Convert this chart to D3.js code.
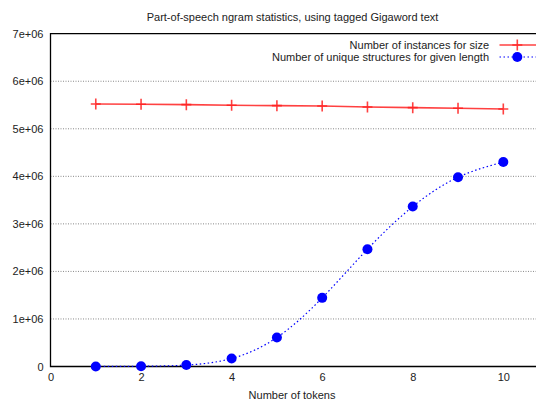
<!DOCTYPE html>
<html>
<head>
<meta charset="utf-8">
<script src="https://cdn.jsdelivr.net/npm/d3@7"></script>
<style>
html,body{margin:0;padding:0;background:#fff;}
svg{display:block;font-family:"Liberation Sans",Arial,Helvetica,sans-serif;}
</style>
</head>
<body>
<svg id="chart" width="536" height="400"></svg>
<script>
const tokens = [1, 2, 3, 4, 5, 6, 7, 8, 9, 10];
const instances = [5522000, 5516000, 5508000, 5495000, 5487000, 5480000, 5459000, 5445000, 5432000, 5417000];
const uniqueStructures = [1000, 5000, 30000, 168000, 610000, 1444000, 2468000, 3364000, 3980000, 4300000];
const xTicks = [0, 2, 4, 6, 8, 10];
const yTicks = [0, 1e6, 2e6, 3e6, 4e6, 5e6, 6e6, 7e6];
const yTickLabels = ["0", "1e+06", "2e+06", "3e+06", "4e+06", "5e+06", "6e+06", "7e+06"];
const titleText = "Part-of-speech ngram statistics, using tagged Gigaword text";
const xLabelText = "Number of tokens";
const seriesNames = ["Number of instances for size", "Number of unique structures for given length"];

const svg = d3.select("#chart");
const plotLeft = 50.5, plotTop = 33.7, plotBottom = 366.5;
const x = d3.scaleLinear().domain([0, 11]).range([plotLeft, plotLeft + 45.28 * 11]);
const y = d3.scaleLinear().domain([0, 7e6]).range([plotBottom, plotTop]);

// grid lines
svg.append("g").selectAll("line").data(yTicks.slice(0, -1)).join("line")
  .attr("x1", plotLeft).attr("x2", 536)
  .attr("y1", d => y(d)).attr("y2", d => y(d))
  .attr("stroke", "#888").attr("stroke-width", 1)
  .attr("stroke-dasharray", "1,1.5");

// y axis labels
const yAxis = d3.axisLeft(y).tickValues(yTicks).tickFormat((d, i) => yTickLabels[i]).tickSize(0).tickPadding(7);
const gy = svg.append("g").attr("transform", `translate(${plotLeft},0)`).call(yAxis);
gy.select(".domain").remove();
gy.selectAll("text").attr("font-size", 11).attr("fill", "#222").attr("font-family", "Liberation Sans, Arial, sans-serif");

const xAxis = d3.axisBottom(x).tickValues(xTicks).tickFormat(d3.format("d")).tickSize(0).tickPadding(7);
const gx = svg.append("g").attr("transform", `translate(0,${plotBottom})`).call(xAxis);
gx.select(".domain").remove();
gx.selectAll("text").attr("font-size", 11).attr("fill", "#222").attr("font-family", "Liberation Sans, Arial, sans-serif");

// border (left, top, bottom)
svg.append("path")
  .attr("d", `M536,${plotTop}H${plotLeft}V${plotBottom}H536`)
  .attr("fill", "none").attr("stroke", "#000").attr("stroke-width", 1.3);

// title and x label
svg.append("text").attr("x", 292.5).attr("y", 21).attr("text-anchor", "middle")
  .attr("font-size", 11).attr("fill", "#222").text(titleText);
svg.append("text").attr("x", 292).attr("y", 399).attr("text-anchor", "middle")
  .attr("font-size", 11).attr("fill", "#222").text(xLabelText);

// red series
const redData = tokens.map((t, i) => [t, instances[i]]);
svg.append("path").datum(redData)
  .attr("d", d3.line().x(d => x(d[0])).y(d => y(d[1])))
  .attr("fill", "none").attr("stroke", "#ff2020").attr("stroke-width", 1.6).attr("stroke-opacity", 0.85);
const plus = (g, cx, cy) => {
  g.append("path").attr("d", `M${cx - 5},${cy}H${cx + 5}M${cx},${cy - 5.5}V${cy + 5.5}`)
    .attr("stroke", "#ff2020").attr("stroke-width", 1.6).attr("stroke-opacity", 0.85).attr("fill", "none");
};
const redMarks = svg.append("g");
redData.forEach(d => plus(redMarks, x(d[0]), y(d[1])));

// blue series
const blueData = tokens.map((t, i) => [t, uniqueStructures[i]]);
svg.append("path").datum(blueData)
  .attr("d", d3.line().curve(d3.curveNatural).x(d => x(d[0])).y(d => y(d[1])))
  .attr("fill", "none").attr("stroke", "#0000ff").attr("stroke-width", 1.2)
  .attr("stroke-dasharray", "1.5,2.5");
svg.append("g").selectAll("circle").data(blueData).join("circle")
  .attr("cx", d => x(d[0])).attr("cy", d => y(d[1])).attr("r", 5).attr("fill", "#0000ff");

// legend
const lgTextX = 489, lgX1 = 499.5, lgX2 = 536, lgMid = 517.3;
const rows = [45, 57];
svg.append("text").attr("x", lgTextX).attr("y", rows[0] + 4).attr("text-anchor", "end")
  .attr("font-size", 11).attr("fill", "#222").text(seriesNames[0]);
svg.append("text").attr("x", lgTextX).attr("y", rows[1] + 4).attr("text-anchor", "end")
  .attr("font-size", 11).attr("fill", "#222").text(seriesNames[1]);
svg.append("line").attr("x1", lgX1).attr("x2", lgX2).attr("y1", rows[0]).attr("y2", rows[0])
  .attr("stroke", "#ff2020").attr("stroke-width", 1.6).attr("stroke-opacity", 0.85);
plus(svg.append("g"), lgMid, rows[0]);
svg.append("line").attr("x1", lgX1).attr("x2", lgX2).attr("y1", rows[1]).attr("y2", rows[1])
  .attr("stroke", "#0000ff").attr("stroke-width", 1.2).attr("stroke-dasharray", "1.5,2.5");
svg.append("circle").attr("cx", lgMid).attr("cy", rows[1]).attr("r", 5).attr("fill", "#0000ff");
</script>
</body>
</html>
